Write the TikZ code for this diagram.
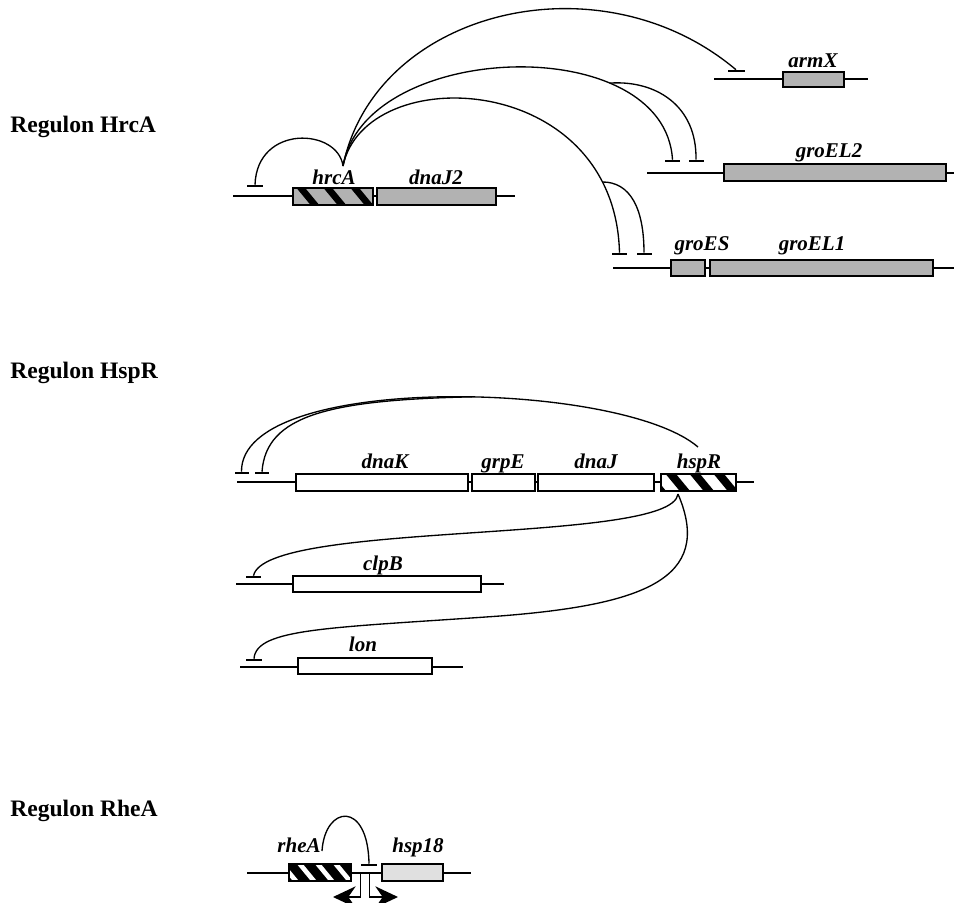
\documentclass[tikz,border=0pt]{standalone}
\usepackage{fontspec}
\setmainfont{Liberation Serif}
\usetikzlibrary{arrows.meta,positioning,calc}
\definecolor{genegrey}{gray}{0.70}
\definecolor{palegrey}{gray}{0.88}

\begin{document}
\begin{tikzpicture}[x=0.75pt,y=-0.75pt,>=Stealth,
 dna/.style={line width=1.4pt},
 arc/.style={line width=1pt},
 gene/.style={draw,line width=1.3pt,inner sep=0pt,minimum height=12.5pt,fill=#1},
 gene/.default=genegrey,
 hatch/.style n args={5}{gene=#1,path picture={
   \foreach \k in {-1,...,4}
     \draw[#2,line width=#4] ($(path picture bounding box.north west)+(\k*#3+#5,-3)$) -- ++(19,23);}},
 tbar/.style={fill=black,inner sep=0pt,minimum height=1.5pt,minimum width=#1},
 tbar/.default=11.5pt,
 lbl/.style={font=\fontsize{15.75}{18}\selectfont\bfseries\itshape,anchor=base,inner sep=0pt},
 reg/.style={font=\fontsize{17.7}{20}\selectfont\bfseries,anchor=base west,inner sep=0pt},
 prom/.style={line width=1.2pt,-{Stealth[length=17pt,width=16pt,inset=5.5pt]}}]
\useasboundingbox (0,0) rectangle (954,903);

% --- Regulon HrcA
\node[reg] (rHrcA) at (10,132) {Regulon HrcA};
\draw[dna] (233,196) -- (515,196);
\draw[dna] (714,79) -- (868,79);
\draw[dna] (647,173) -- (954,173);
\draw[dna] (613,268) -- (954,268);
\node[hatch={genegrey}{black}{27}{5pt}{5.5},minimum width=60pt] (hrcA) at (333,196.5) {};
\node[gene,minimum width=89.25pt] (dnaJ2) at (436.5,196.5) {};
\node[gene,minimum width=45.75pt,minimum height=11.25pt] (armX) at (813.5,79.5) {};
\node[gene,minimum width=166.5pt] (groEL2) at (835,172.5) {};
\node[gene,minimum width=25.5pt] (groES) at (688,268) {};
\node[gene,minimum width=167.25pt] (groEL1) at (821.5,268) {};
\node[lbl] (lhrcA) at (334,184) {hrcA};
\node[lbl] (ldnaJ2) at (436,184) {dnaJ2};
\node[lbl] (larmX) at (813,67) {armX};
\node[lbl] (lgroEL2) at (829,157) {groEL2};
\node[lbl] (lgroES) at (702,250) {groES};
\node[lbl] (lgroEL1) at (812,250) {groEL1};
\node[tbar=12pt] (pHrc) at (255,186) {};
\node[tbar=12.75pt] (pArm) at (736,71) {};
\node[tbar=11.25pt] (pEL2a) at (672.5,161) {};
\node[tbar=11.25pt] (pEL2b) at (696,161) {};
\node[tbar=11.25pt] (pESa) at (619.5,254) {};
\node[tbar=11.25pt] (pESb) at (644,254) {};
\coordinate (sHrc) at (343,166);
\draw[arc] (sHrc) .. controls (338,128) and (257,124) .. (pHrc.north);
\draw[arc] (sHrc) .. controls (375,10) and (600,-45) .. (pArm.north);
\draw[arc] (sHrc) .. controls (365,40) and (665,30) .. (pEL2a.north) coordinate[pos=0.72] (bEL2);
\draw[arc] (bEL2) .. controls (655,80) and (697,105) .. (pEL2b.north);
\draw[arc] (sHrc) .. controls (365,60) and (615,70) .. (pESa.north) coordinate[pos=0.85] (bES);
\draw[arc] (bES) .. controls (630,182) and (644,208) .. (pESb.north);

% --- Regulon HspR
\node[reg] (rHspR) at (10,378) {Regulon HspR};
\draw[dna] (237,482) -- (754,482);
\draw[dna] (236,584) -- (504,584);
\draw[dna] (240,667) -- (463,667);
\node[gene=white,minimum width=129pt] (dnaK) at (382,482.5) {};
\node[gene=white,minimum width=47.25pt] (grpE) at (503.5,482.5) {};
\node[gene=white,minimum width=87pt] (dnaJ) at (596,482.5) {};
\node[hatch={white}{black}{24}{6pt}{7.5},minimum width=56.25pt] (hspR) at (698.5,482.5) {};
\node[gene=white,minimum width=141pt,minimum height=12pt] (clpB) at (387,584) {};
\node[gene=white,minimum width=100.5pt,minimum height=12pt] (lon) at (365,666) {};
\node[lbl] (ldnaK) at (385,468) {dnaK};
\node[lbl] (lgrpE) at (503,468) {grpE};
\node[lbl] (ldnaJ) at (596,468) {dnaJ};
\node[lbl] (lhspR) at (699,468) {hspR};
\node[lbl] (lclpB) at (383,570) {clpB};
\node[lbl] (llon) at (363,651) {lon};
\node[tbar=10.5pt] (pKa) at (241.5,473) {};
\node[tbar=10.5pt] (pKb) at (262,473) {};
\node[tbar=11.25pt] (pClp) at (253.5,577) {};
\node[tbar=12pt] (pLon) at (254,660) {};
\coordinate (sHsp) at (698,447);
\coordinate (sHspB) at (678,494);
\draw[arc] (sHsp) .. controls (620,380) and (240,372) .. (pKa.north) coordinate[pos=0.45] (bK);
\draw[arc] (bK) .. controls (330,400) and (266,415) .. (pKb.north);
\draw[arc] (sHspB) .. controls (672,545) and (265,520) .. (pClp.north);
\draw[arc] (sHspB) .. controls (715,580) and (640,605) .. (500,616)
  .. controls (330,628) and (256,628) .. (pLon.north);

% --- Regulon RheA
\node[reg] (rRheA) at (10,816) {Regulon RheA};
\draw[dna] (247,873) -- (471,873);
\node[hatch={black}{white}{18}{3.5pt}{8.5},minimum width=46.5pt] (rheA) at (320,872.5) {};
\node[gene=palegrey,minimum width=45.75pt] (hsp18) at (412.5,872.5) {};
\node[lbl] (lrheA) at (299,852) {rheA};
\node[lbl] (lhsp18) at (418,852) {hsp18};
\node[tbar=12pt] (pHsp) at (369,865) {};
\coordinate (sRhe) at (322,851);
\draw[arc] (sRhe) .. controls (325,805) and (368,800) .. (pHsp.north);
\coordinate (pL) at (360.5,873);
\coordinate (pR) at (369.5,873);
\coordinate (tL) at (333,897);
\coordinate (tR) at (398,897);
\draw[prom] (pL) |- (tL);
\draw[prom] (pR) |- (tR);
\end{tikzpicture}
\end{document}
